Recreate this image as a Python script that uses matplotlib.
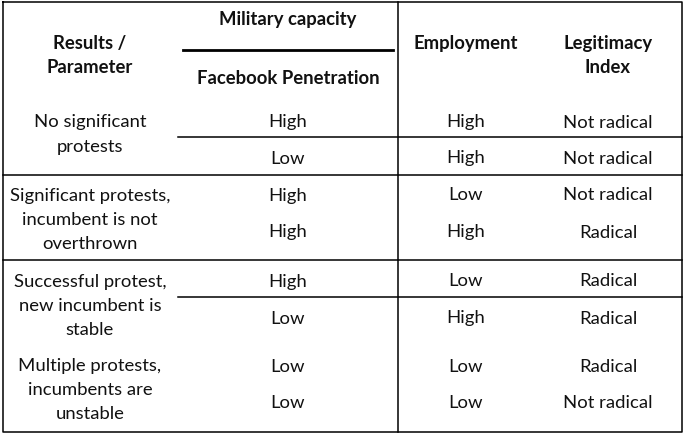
import matplotlib.pyplot as plt

plt.rcParams['font.family'] = ['Lato', 'DejaVu Sans']

# table content
header_results = "Results /\nParameter"
header_military = "Military capacity"
header_facebook = "Facebook Penetration"
header_employment = "Employment"
header_legitimacy = "Legitimacy\nIndex"

results = [
    "No significant\nprotests",
    "Significant protests,\nincumbent is not\noverthrown",
    "Successful protest,\nnew incumbent is\nstable",
    "Multiple protests,\nincumbents are\nunstable",
]
facebook = ["High", "Low", "High", "High", "High", "Low", "Low", "Low"]
employment = ["High", "High", "Low", "High", "Low", "High", "Low", "Low"]
legitimacy = ["Not radical", "Not radical", "Not radical", "Radical",
              "Radical", "Radical", "Radical", "Not radical"]

# layout (pixels)
W, H = 689, 440
col_x = [90, 288, 466, 608]
row_y = [121, 157, 194, 231, 280, 317, 365, 402]
result_y = [121, 194, 280, 364]
line_h = 24.3
dy = 1.5  # small nudge so glyphs sit where the original's do
fs = 13.3

fig = plt.figure(figsize=(W / 100, H / 100), dpi=100)
ax = fig.add_axes([0, 0, 1, 1])
ax.set_xlim(0, W)
ax.set_ylim(H, 0)
ax.axis('off')


def cell(x, y, s, bold=False):
    # one text line per call so the line pitch matches the original
    for k, line in enumerate(s.split('\n')):
        ax.text(x, y + dy + k * line_h, line, ha='center', va='center', fontsize=fs,
                fontweight='bold' if bold else 'normal', color='#111111')


# lines
lw = 1.1
ax.plot([3, 682, 682, 3, 3], [2, 2, 432, 432, 2], color='black', lw=lw)
ax.plot([398, 398], [2, 432], color='black', lw=lw)
ax.plot([183, 393], [50, 50], color='black', lw=2.0)
for y in [175, 260]:
    ax.plot([3, 682], [y, y], color='black', lw=lw)
for y in [137, 297]:
    ax.plot([178, 682], [y, y], color='black', lw=lw)

# headers
cell(col_x[0], 42, header_results, bold=True)
cell(col_x[1], 18, header_military, bold=True)
cell(col_x[1], 77, header_facebook, bold=True)
cell(col_x[2], 42, header_employment, bold=True)
cell(col_x[3], 42, header_legitimacy, bold=True)

# body
for i, r in enumerate(results):
    cell(col_x[0], result_y[i], r)
for i, y in enumerate(row_y):
    cell(col_x[1], y, facebook[i])
    cell(col_x[2], y, employment[i])
    cell(col_x[3], y, legitimacy[i])

fig.savefig('out.png', dpi=100, facecolor='white')
